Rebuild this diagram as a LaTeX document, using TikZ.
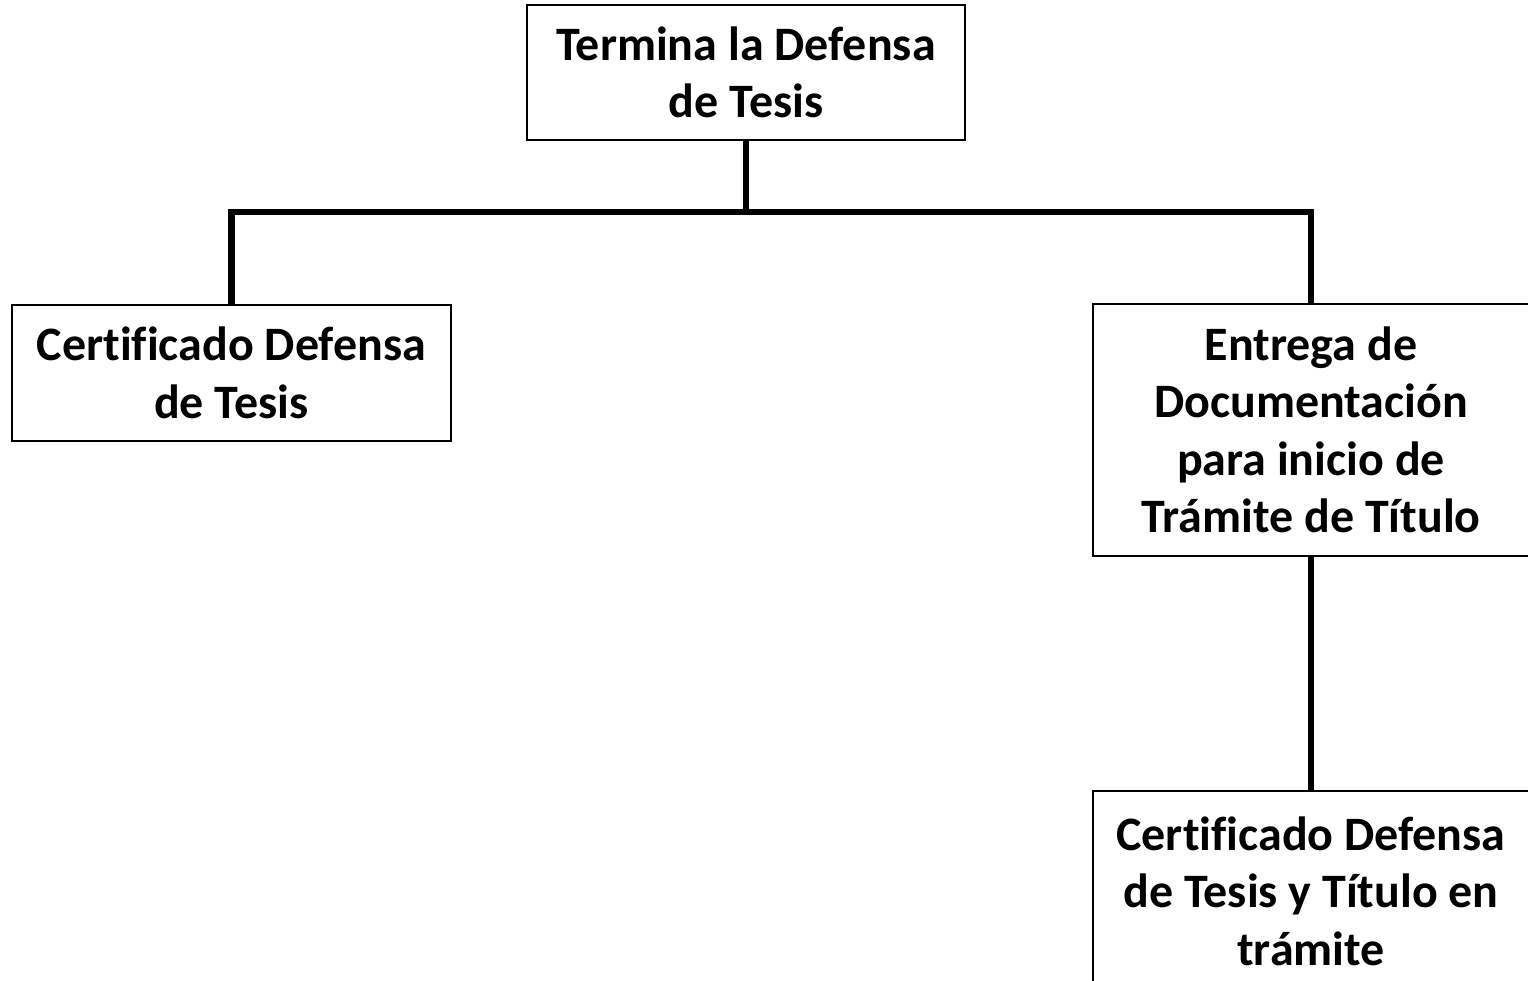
\documentclass[tikz,border=0pt]{standalone}
\usepackage{fontspec}
\setmainfont[Ligatures=NoCommon]{Carlito}
\begin{document}
\begin{tikzpicture}[x=1pt, y=-1pt,
        box/.style={draw, line width=2pt, align=center, inner sep=0pt,
            font=\fontsize{48}{57.5}\selectfont\bfseries},
        link/.style={line width=6.5pt}]
        \useasboundingbox (0,0) rectangle (1528,981);

        % nodes
        \node (defensa) [box, minimum width=438, minimum height=135] at (746,72.5) {Termina la Defensa\\de Tesis};
        \node (certif) [box, minimum width=439, minimum height=136] at (231.5,373) {Certificado Defensa\\de Tesis};
        \node (entrega) [box, minimum width=436, minimum height=252] at (1311,430) {Entrega de\\Documentaci\'on\\para inicio de\\Tr\'amite de T\'itulo};
        \node (titulo) [box, minimum width=436, minimum height=200] at (1311,891) {Certificado Defensa\\de Tesis y T\'itulo en\\tr\'amite};
        \coordinate (bus) at (746,212);

        % edges
        \draw[link] (defensa) -- (bus);
        \draw[link] (certif.north) |- (bus) -| (entrega.north);
        \draw[link] (entrega) -- (titulo);
    \end{tikzpicture}
\end{document}
